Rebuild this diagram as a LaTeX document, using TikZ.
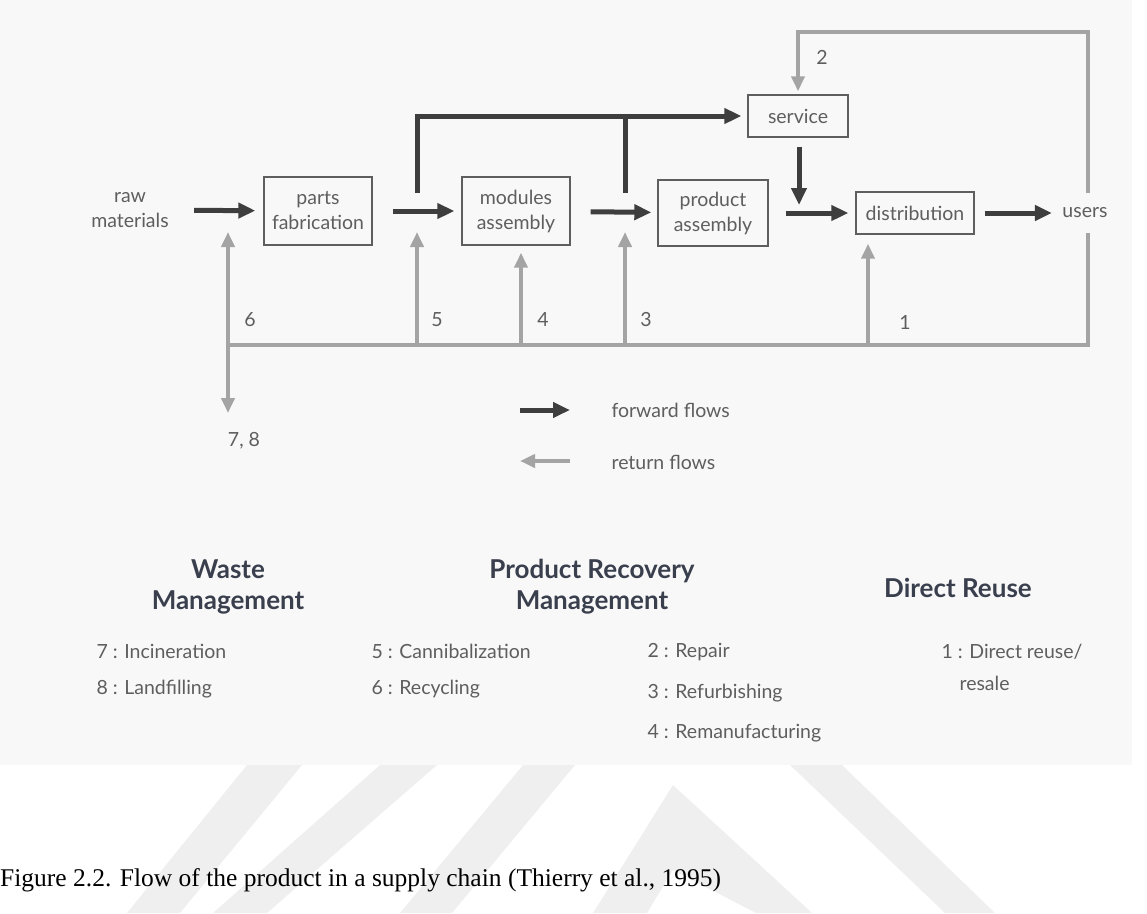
\documentclass[tikz,border=0pt]{standalone}
\usepackage{fontspec}
\setmainfont{Lato}
\newfontfamily\capfont{Liberation Serif}
\usetikzlibrary{arrows.meta,positioning}

\definecolor{fwdcol}{HTML}{3E3E3E}
\definecolor{retcol}{HTML}{A4A4A4}
\definecolor{txtcol}{HTML}{5E5E5E}
\definecolor{headcol}{HTML}{3A3F4E}
\definecolor{scancol}{HTML}{F8F8F8}
\definecolor{markcol}{HTML}{EFEFEF}

\newcommand\dfont{\fontsize{19.5}{25}\selectfont}

\tikzset{
    box/.style={draw=txtcol, line width=1.4pt, text=txtcol, font=\dfont, align=center, inner sep=0pt},
    lbl/.style={text=txtcol, font=\dfont, align=center},
    fwd/.style={draw=fwdcol, line width=5pt, -{Triangle[length=17pt,width=15pt]}},
    fwdline/.style={draw=fwdcol, line width=5pt},
    ret/.style={draw=retcol, line width=4pt, -{Triangle[length=15pt,width=13pt]}},
    retline/.style={draw=retcol, line width=4pt},
    head/.style={text=headcol, font=\fontsize{26}{31}\selectfont\bfseries, align=center},
    item/.style={text=txtcol, font=\dfont, anchor=west}
}

\begin{document}
\begin{tikzpicture}[x=1pt,y=-1pt]
    \useasboundingbox (0,0) rectangle (1147,913);
    %scan and watermark
    \fill[scancol] (0,0) rectangle (1132,765);
    \fill[markcol] (247,765) -- (302,765) -- (180,913) -- (127,913) -- cycle;
    \fill[markcol] (380,765) -- (437,765) -- (267,913) -- (213,913) -- cycle;
    \fill[markcol] (523,765) -- (575,765) -- (452,913) -- (400,913) -- cycle;
    \fill[markcol] (593,913) -- (673,785) -- (812,913) -- (756,913) -- (673,870) -- (647,913) -- cycle;
    \fill[markcol] (790,765) -- (842,765) -- (995,913) -- (945,913) -- cycle;

    %chain
    \node[lbl] (raw) at (130,210) {raw\\materials};
    \node[box, minimum width=108pt, minimum height=68pt] (parts) at (318,211) {parts\\fabrication};
    \node[box, minimum width=108pt, minimum height=68pt] (modules) at (516,211) {modules\\assembly};
    \node[box, minimum width=110pt, minimum height=66pt] (product) at (713,213) {product\\assembly};
    \node[box, minimum width=100pt, minimum height=42pt] (service) at (798,116) {service};
    \node[box, minimum width=118pt, minimum height=42pt] (dist) at (915,213) {distribution};
    \node[lbl] (users) at (1085,213) {users};

    \draw[fwd, shorten <=22pt, shorten >=8pt] (raw) -- (parts);
    \draw[fwd, shorten <=20pt, shorten >=7pt] (parts) -- (modules);
    \draw[fwd, shorten <=20pt, shorten >=6pt] (modules) -- (product);
    \draw[fwd, shorten <=17pt, shorten >=7pt] (product) -- (dist);
    \draw[fwd, shorten <=10pt, shorten >=7pt] (dist) -- (users);

    %bypass to service
    \coordinate (b5) at (417,193);
    \coordinate (b3) at (625,193);
    \coordinate (sv) at (799,205);
    \draw[fwd, shorten >=6pt] (b5) |- (service);
    \draw[fwdline] (b3) -- (b3 |- service.west);
    \draw[fwd, shorten <=9pt] (service.south -| sv) -- (sv);

    %return flows
    \coordinate (u1) at (1088,193);
    \coordinate (top) at (1088,32);
    \coordinate (u2) at (1088,233);
    \coordinate (j6) at (228,345);
    \coordinate (j5) at (417,345);
    \coordinate (j4) at (521,345);
    \coordinate (j3) at (625,345);
    \coordinate (j1) at (868,345);
    \coordinate (c6) at (228,232);
    \coordinate (w78) at (228,413);
    \draw[ret, shorten >=3pt] (u1) -- (top) -| (service.north);
    \draw[retline] (u2) |- (j6);
    \draw[ret] (j6) -- (c6);
    \draw[ret] (j6) -- (w78);
    \draw[ret] (j5) -- (j5 |- c6);
    \draw[ret, shorten >=7pt] (j4) -- (j4 |- modules.south);
    \draw[ret] (j3) -- (j3 |- c6);
    \draw[ret, shorten >=9pt] (j1) -- (j1 |- dist.south);

    \node[lbl] (n2) at (822,57) {2};
    \node[lbl] (n6) at (250,320) {6};
    \node[lbl] (n5) at (437,320) {5};
    \node[lbl] (n4) at (543,320) {4};
    \node[lbl] (n3) at (646,320) {3};
    \node[lbl] (n1) at (905,322) {1};
    \node[lbl] (n78) at (244,441) {7, 8};

    %legend
    \coordinate (lf1) at (520,410);
    \coordinate (lf2) at (570,410);
    \coordinate (lr1) at (570,461);
    \coordinate (lr2) at (520,461);
    \draw[fwd] (lf1) -- (lf2);
    \draw[ret] (lr1) -- (lr2);
    \node[item] (lf) at (608,410) {forward flows};
    \node[item] (lr) at (608,462) {return flows};

    %options
    \node[head] (waste) at (228,587) {Waste\\Management};
    \node[head] (prm) at (592,587) {Product Recovery\\Management};
    \node[head] (reuse) at (958,588) {Direct Reuse};

    \node[item] (i7) at (93,651) {7 : Incineration};
    \node[item] (i8) at (93,689) {8 : Landfilling};
    \node[item] (i5) at (368,651) {5 : Cannibalization};
    \node[item] (i6) at (368,689) {6 : Recycling};
    \node[item] (i2) at (644,652) {2 : Repair};
    \node[item] (i3) at (644,693) {3 : Refurbishing};
    \node[item] (i4) at (644,733) {4 : Remanufacturing};
    \node[item] (i1) at (938,652) {1 : Direct reuse/};
    \node[item] (i1b) at (956,683) {resale};

    %caption
    \node[anchor=west, inner sep=0pt, font=\capfont\fontsize{25.5}{30}\selectfont] (cap) at (0,880)
        {Figure 2.2. Flow of the product in a supply chain (Thierry et al., 1995)};
\end{tikzpicture}
\end{document}
